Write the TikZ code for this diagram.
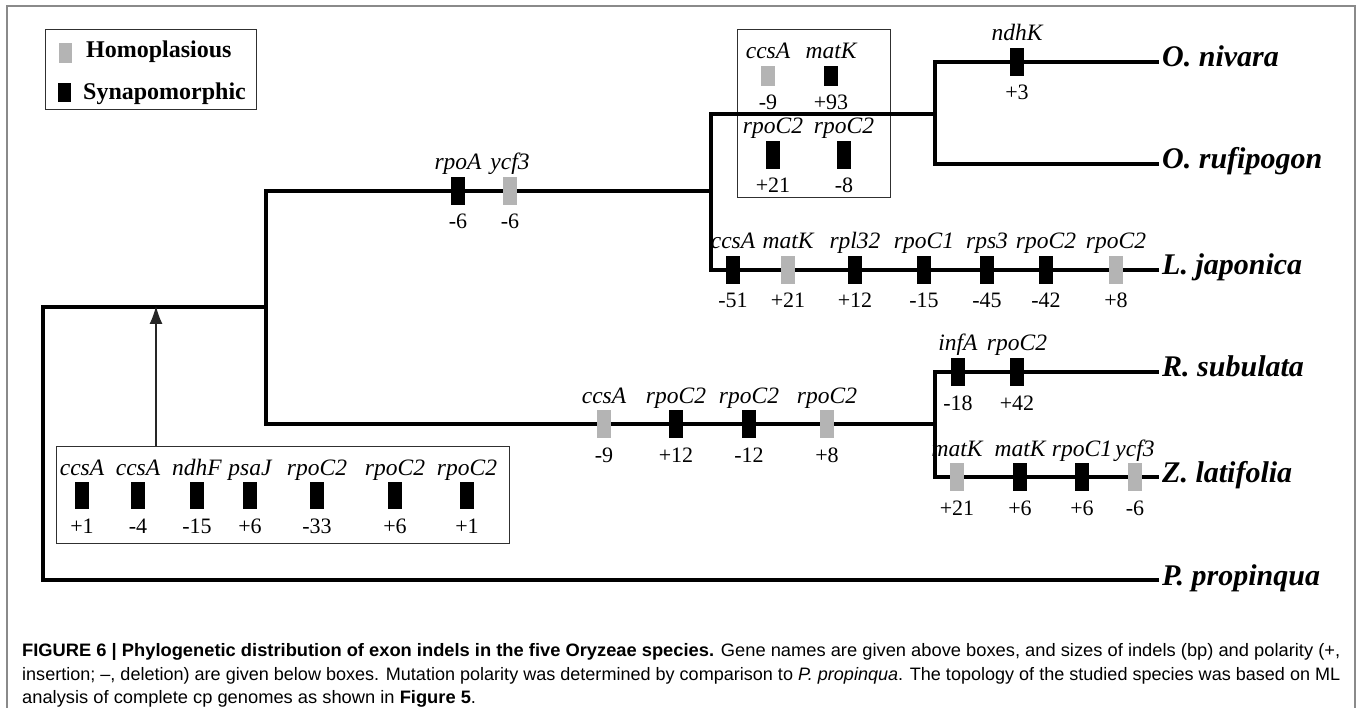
\documentclass[tikz,border=0pt]{standalone}
\usepackage{fontspec}
\usepackage{graphicx}
\setmainfont{Liberation Serif}
\newfontfamily\capfont{Liberation Sans}
\usetikzlibrary{arrows.meta}

\definecolor{homo}{HTML}{B4B4B4}
\definecolor{framegray}{HTML}{8A8A8A}
\definecolor{panelline}{HTML}{303030}

% caption text, one macro per printed line
\newcommand\capone{{\bfseries FIGURE 6 | Phylogenetic distribution of exon indels in the five Oryzeae species.} Gene names are given above boxes, and sizes of indels (bp) and polarity (+,}
\newcommand\captwo{insertion; –, deletion) are given below boxes. Mutation polarity was determined by comparison to \textit{P. propinqua}. The topology of the studied species was based on ML}
\newcommand\capthree{analysis of complete cp genomes as shown in \textbf{Figure 5}.}
\newlength\caplen

\tikzset{
  branch/.style={line width=3.2pt, line cap=rect},
  synbox/.style={rectangle, fill=black, minimum width=14pt, minimum height=28pt, inner sep=0pt, outer sep=0pt},
  homobox/.style={synbox, fill=homo},
  genetext/.style={anchor=base, inner sep=0pt, font=\fontsize{23.5}{26}\selectfont\itshape},
  sizetext/.style={anchor=base, inner sep=0pt, font=\fontsize{22}{26}\selectfont},
  species/.style={anchor=base west, inner sep=0pt, font=\fontsize{30}{34}\selectfont\bfseries\itshape},
  legendtext/.style={anchor=base west, inner sep=0pt, font=\fontsize{24}{28}\selectfont\bfseries},
  panel/.style={draw=panelline, line width=1.4pt, rectangle, anchor=north west, inner sep=0pt},
  captext/.style={anchor=base west, inner sep=0pt, font=\capfont\fontsize{18}{22}\selectfont},
  pointer/.style={draw=black!85, line width=1.4pt, -{Latex[length=18pt,width=13pt]}},
}

% an indel: box, gene name above it, size below it
\newcommand\indelmark[5]{%
  \node[#2] (#1) at #3 {};
  \node[genetext] (#1-gene) at ([yshift=7pt]#1.north) {#4};
  \node[sizetext] (#1-size) at ([yshift=-24pt]#1.south) {#5};
}

\begin{document}
% width of the first caption line, used to scale the last one alike
\settowidth\caplen{\capfont\fontsize{18}{22}\selectfont\capone}%
\pgfmathsetmacro\capscale{1318/\caplen}%
\begin{tikzpicture}[x=1pt,y=-1pt]
\useasboundingbox (0,0) rectangle (1360,708);

% figure frame
\draw[framegray, line width=1.3pt] (7,720) -- (7,6) -- (1355,6) -- (1355,720);

% legend
\node[panel, minimum width=211pt, minimum height=80pt] (legend) at (45,29) {};
\node[homobox, minimum width=13pt, minimum height=20pt] (lg-homo) at (65.5,53) {};
\node[synbox, minimum width=13pt, minimum height=19pt] (lg-syn) at (64.5,92.5) {};
\node[legendtext] (lg-homo-text) at (86,58) {Homoplasious};
\node[legendtext] (lg-syn-text) at (83,100) {Synapomorphic};

% panels grouping several indels
\node[panel, minimum width=153pt, minimum height=168pt] (oryzabox) at (737,29) {};
\node[panel, minimum width=453pt, minimum height=97pt] (basebox) at (56,446) {};

% tree junctions and tips
\coordinate (dO) at (935,114);
\coordinate (dU) at (711,191);
\coordinate (dR) at (266,307);
\coordinate (dL) at (935,424);
\coordinate (dP) at (43,307);
\coordinate (tNiv) at (1157,62);
\coordinate (tRuf) at (1157,164);
\coordinate (tJap) at (1157,270);
\coordinate (tSub) at (1157,372);
\coordinate (tLat) at (1157,477);
\coordinate (tPro) at (1157,580);

\draw[branch] (tNiv) -| (dO) |- (tRuf);
\draw[branch] (dO) -| (dU) |- (tJap);
\draw[branch] (dU) -| (dR) |- (dL);
\draw[branch] (tSub) -| (dL) |- (tLat);
\draw[branch] (dR) -- (dP) |- (tPro);

% species names
\node[species] (nivara) at (1162,67) {O. nivara};
\node[species] (rufipogon) at (1162,169) {O. rufipogon};
\node[species] (japonica) at (1162,275) {L. japonica};
\node[species] (subulata) at (1162,377) {R. subulata};
\node[species] (latifolia) at (1162,482) {Z. latifolia};
\node[species] (propinqua) at (1162,585) {P. propinqua};

% pointer from the panel of basal indels to the root branch
\coordinate (arrfoot) at (156,446);
\coordinate (arrtip) at (156,306);
\draw[pointer] (arrfoot) -- (arrtip);

% O. nivara
\indelmark{niv1}{synbox}{(1017,62)}{ndhK}{+3}

% Oryza panel
\indelmark{or1}{homobox, minimum height=20pt}{(768,76)}{ccsA}{-9}
\indelmark{or2}{synbox, minimum height=20pt}{(831,76)}{matK}{+93}
\indelmark{or3}{synbox}{(773,155)}{rpoC2}{+21}
\indelmark{or4}{synbox}{(844,155)}{rpoC2}{-8}

% branch to Oryza + Leersia
\indelmark{ol1}{synbox}{(458,191)}{rpoA}{-6}
\indelmark{ol2}{homobox}{(510,191)}{ycf3}{-6}

% L. japonica
\indelmark{ja1}{synbox}{(733,270)}{ccsA}{-51}
\indelmark{ja2}{homobox}{(788,270)}{matK}{+21}
\indelmark{ja3}{synbox}{(855,270)}{rpl32}{+12}
\indelmark{ja4}{synbox}{(924,270)}{rpoC1}{-15}
\indelmark{ja5}{synbox}{(987,270)}{rps3}{-45}
\indelmark{ja6}{synbox}{(1046,270)}{rpoC2}{-42}
\indelmark{ja7}{homobox}{(1116,270)}{rpoC2}{+8}

% branch to Rhynchoryza + Zizania
\indelmark{rz1}{homobox}{(604,424)}{ccsA}{-9}
\indelmark{rz2}{synbox}{(676,424)}{rpoC2}{+12}
\indelmark{rz3}{synbox}{(749,424)}{rpoC2}{-12}
\indelmark{rz4}{homobox}{(827,424)}{rpoC2}{+8}

% R. subulata
\indelmark{su1}{synbox}{(958,372)}{infA}{-18}
\indelmark{su2}{synbox}{(1017,372)}{rpoC2}{+42}

% Z. latifolia
\indelmark{la1}{homobox}{(957,477)}{matK}{+21}
\indelmark{la2}{synbox}{(1020,477)}{matK}{+6}
\indelmark{la3}{synbox}{(1082,477)}{rpoC1}{+6}
\indelmark{la4}{homobox}{(1135,477)}{ycf3}{-6}

% basal panel
\indelmark{ba1}{synbox, minimum height=27pt}{(82,495.5)}{ccsA}{+1}
\indelmark{ba2}{synbox, minimum height=27pt}{(138,495.5)}{ccsA}{-4}
\indelmark{ba3}{synbox, minimum height=27pt}{(197,495.5)}{ndhF}{-15}
\indelmark{ba4}{synbox, minimum height=27pt}{(250,495.5)}{psaJ}{+6}
\indelmark{ba5}{synbox, minimum height=27pt}{(317,495.5)}{rpoC2}{-33}
\indelmark{ba6}{synbox, minimum height=27pt}{(395,495.5)}{rpoC2}{+6}
\indelmark{ba7}{synbox, minimum height=27pt}{(467,495.5)}{rpoC2}{+1}

% caption
\node[captext] (cap1) at (22,656) {\resizebox{1318pt}{\height}{\capone}};
\node[captext] (cap2) at (22,680) {\resizebox{1318pt}{\height}{\captwo}};
\node[captext] (cap3) at (22,703) {\scalebox{\capscale}[1]{\capthree}};
\end{tikzpicture}
\end{document}
